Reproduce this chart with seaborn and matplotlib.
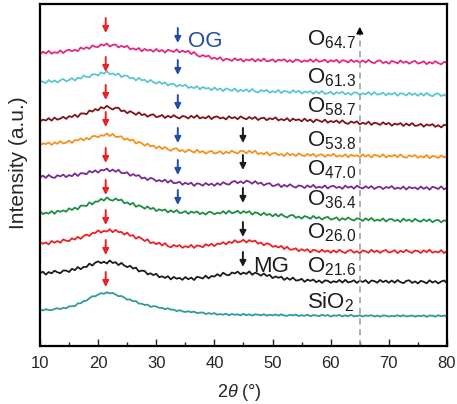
import numpy as np
import pandas as pd
import matplotlib
matplotlib.use('Agg')
import matplotlib.pyplot as plt
import seaborn as sns

# 2theta grid (0.5 deg steps) and stacked XRD intensities
two_theta = np.arange(10, 80.5, 0.5)

sio2 = [36.6, 35.5, 36.8, 36.0, 35.8, 37.1, 37.7, 36.9, 38.2, 37.7, 39.6, 39.8, 39.9, 42.6, 42.7, 45.0,
        45.3, 47.8, 49.8, 49.7, 51.4, 52.9, 52.2, 53.7, 52.6, 53.1, 51.4, 49.8, 50.0, 48.4, 46.3, 46.6,
        44.7, 44.9, 42.4, 42.3, 41.0, 41.4, 39.2, 39.8, 39.6, 38.1, 38.2, 36.7, 37.8, 36.3, 36.4, 34.9,
        35.8, 34.6, 34.0, 34.8, 33.7, 34.4, 32.8, 33.4, 33.5, 32.0, 32.9, 32.1, 32.9, 31.3, 31.9, 31.3,
        32.3, 30.7, 32.1, 31.2, 31.7, 30.7, 32.1, 30.8, 31.7, 30.4, 31.7, 31.3, 30.6, 31.8, 30.3, 31.3,
        30.6, 31.6, 30.3, 31.7, 30.5, 30.1, 31.2, 30.6, 31.4, 30.0, 30.8, 30.2, 31.3, 29.8, 30.9, 30.6,
        29.8, 31.2, 30.2, 31.0, 29.5, 30.6, 30.2, 31.0, 29.6, 30.7, 29.8, 31.1, 29.7, 30.0, 30.7, 29.4,
        30.6, 30.1, 30.8, 29.5, 30.4, 29.3, 30.6, 30.4, 29.4, 30.2, 29.7, 30.8, 29.5, 30.8, 29.6, 29.9,
        30.6, 29.3, 30.4, 29.8, 30.7, 29.2, 30.5, 30.2, 29.4, 30.8, 29.7, 30.5, 29.4]
o216 = [72.8, 74.3, 71.4, 73.9, 72.7, 75.3, 73.7, 72.8, 75.5, 75.4, 74.0, 77.2, 75.8, 79.0, 76.8, 79.1,
        79.0, 82.4, 80.4, 83.3, 84.6, 82.9, 84.3, 82.5, 85.5, 83.0, 83.8, 80.9, 83.1, 80.5, 78.9, 80.2,
        77.4, 78.4, 74.5, 75.4, 75.0, 71.6, 72.7, 70.9, 72.2, 68.8, 69.7, 68.1, 69.8, 66.6, 69.1, 67.3,
        68.1, 66.2, 69.0, 66.7, 68.4, 66.0, 69.2, 68.5, 67.5, 70.3, 67.6, 70.0, 69.4, 71.8, 69.9, 73.3,
        71.3, 70.7, 73.5, 72.5, 74.4, 71.7, 73.4, 72.1, 74.6, 71.2, 73.3, 72.2, 70.3, 72.5, 70.0, 71.1,
        67.9, 69.6, 68.2, 69.3, 66.1, 68.2, 66.2, 68.4, 65.5, 65.8, 67.2, 64.2, 66.4, 65.1, 66.4, 63.8,
        65.5, 63.1, 65.6, 65.2, 63.2, 64.8, 63.8, 66.0, 63.4, 66.1, 63.6, 64.3, 65.7, 63.1, 65.3, 64.0,
        65.8, 62.8, 65.5, 64.9, 63.3, 66.0, 63.9, 65.4, 63.2, 65.5, 63.3, 65.9, 63.9, 62.8, 65.1, 65.7,
        63.1, 64.6, 62.6, 65.1, 64.2, 62.7, 65.7, 63.4, 64.9, 62.6, 64.5, 65.5, 62.9]
o260 = [104.1, 102.2, 103.5, 101.6, 105.0, 103.3, 105.0, 103.3, 106.6, 105.3, 104.9, 107.7, 106.4, 109.2,
        107.2, 110.0, 111.5, 110.0, 113.0, 112.9, 115.7, 113.3, 115.2, 114.4, 116.8, 113.7, 116.1, 113.9,
        114.1, 111.3, 113.3, 110.1, 110.9, 107.3, 109.2, 107.3, 105.0, 106.7, 102.8, 103.8, 101.9, 103.3,
        100.4, 102.8, 99.8, 98.7, 101.0, 99.5, 100.9, 98.2, 99.9, 98.6, 101.1, 98.1, 100.5, 100.0, 98.8,
        101.8, 100.2, 102.2, 99.9, 102.4, 101.9, 103.9, 101.6, 104.3, 102.9, 105.8, 103.5, 104.4, 106.2,
        103.5, 105.9, 104.4, 105.4, 102.3, 103.5, 100.7, 102.8, 101.8, 99.2, 100.1, 98.5, 100.1, 96.9,
        99.2, 96.3, 96.6, 97.7, 94.8, 96.8, 95.2, 96.8, 93.6, 96.2, 95.5, 93.8, 96.3, 94.1, 95.5, 93.2,
        95.7, 93.5, 96.1, 94.1, 93.0, 95.3, 95.9, 93.3, 94.8, 92.8, 95.6, 94.7, 93.2, 96.2, 93.9, 95.4,
        93.1, 95.0, 96.0, 93.4, 94.3, 95.8, 92.9, 95.2, 93.7, 96.1, 94.2, 93.1, 95.5, 94.9, 93.0, 95.7,
        93.8, 96.3, 93.3, 94.6, 93.5, 95.9, 92.9, 95.1]
o364 = [134.7, 131.9, 133.4, 132.4, 134.8, 132.2, 135.3, 134.2, 135.6, 134.3, 137.7, 136.0, 138.4, 136.6,
        140.4, 140.4, 140.0, 143.6, 141.6, 144.5, 144.4, 147.1, 145.4, 148.6, 146.3, 145.3, 147.5, 145.6,
        146.4, 142.8, 143.6, 141.4, 143.1, 139.2, 140.8, 139.4, 137.3, 139.5, 137.0, 138.1, 134.9, 136.7,
        135.4, 136.6, 133.6, 135.7, 133.7, 135.9, 133.0, 133.4, 134.9, 132.1, 134.4, 133.2, 134.6, 131.9,
        133.5, 131.4, 134.1, 133.7, 131.7, 133.3, 132.5, 134.8, 132.4, 135.2, 132.8, 133.6, 135.2, 132.6,
        134.8, 133.2, 134.8, 131.4, 133.8, 132.8, 130.8, 133.2, 130.9, 132.1, 129.7, 132.0, 129.6, 132.0,
        129.8, 128.5, 130.6, 131.0, 128.2, 129.5, 127.3, 129.9, 128.9, 127.2, 130.1, 127.6, 128.9, 126.5,
        128.3, 129.1, 126.4, 127.2, 128.6, 125.6, 127.8, 126.2, 128.5, 126.6, 125.4, 127.7, 127.0, 125.0,
        127.7, 125.7, 128.1, 125.1, 126.3, 125.2, 127.5, 124.5, 126.6, 127.0, 125.0, 126.2, 124.1, 127.3,
        125.2, 126.4, 124.3, 127.1, 125.3, 124.3, 126.6, 124.8, 126.7, 123.8, 125.6, 126.1, 123.7, 125.7,
        124.7]
o470 = [168.4, 170.4, 168.1, 171.1, 168.8, 168.1, 170.7, 169.6, 171.4, 168.9, 170.9, 169.8, 172.6, 170.0,
        172.8, 172.7, 171.8, 175.0, 173.5, 175.6, 173.4, 176.1, 175.7, 177.4, 174.6, 176.5, 174.2, 176.2,
        173.0, 172.8, 173.7, 170.2, 171.9, 170.1, 170.9, 167.5, 168.5, 165.9, 168.1, 167.2, 164.7, 165.9,
        164.5, 166.3, 163.4, 165.7, 162.8, 163.1, 164.2, 161.3, 163.3, 161.7, 163.3, 160.1, 162.7, 162.0,
        160.3, 163.0, 160.9, 162.4, 160.2, 162.9, 161.0, 163.8, 162.1, 161.3, 164.0, 165.0, 162.8, 164.6,
        162.8, 165.4, 164.2, 162.3, 164.9, 162.2, 163.4, 160.7, 162.2, 162.8, 159.9, 160.6, 162.0, 158.9,
        161.1, 159.4, 161.7, 159.6, 158.4, 160.6, 159.9, 158.0, 160.6, 158.7, 161.1, 158.1, 159.3, 158.2,
        160.5, 157.5, 159.6, 160.1, 158.1, 159.2, 157.2, 160.4, 158.3, 159.6, 157.4, 160.3, 158.5, 157.5,
        159.8, 157.9, 159.9, 157.0, 158.8, 159.4, 156.9, 159.0, 158.0, 159.9, 157.0, 158.4, 157.2, 159.4,
        156.5, 159.1, 157.6, 158.6, 156.7, 159.5, 157.2, 158.9, 156.3, 159.2, 158.3, 157.0, 159.6, 156.6,
        158.5]
o538 = [200.4, 202.7, 201.9, 203.6, 201.1, 203.7, 202.2, 204.9, 202.5, 203.4, 205.4, 203.1, 205.9, 205.5,
        207.6, 205.6, 208.0, 206.5, 209.8, 210.0, 208.7, 210.8, 210.3, 212.6, 209.9, 212.1, 209.1, 209.1,
        209.7, 206.2, 207.5, 205.3, 206.3, 202.4, 204.2, 202.7, 200.3, 202.3, 199.6, 200.5, 197.7, 199.7,
        197.0, 199.1, 196.6, 195.2, 197.3, 197.6, 194.8, 196.0, 193.8, 196.3, 195.2, 193.4, 196.2, 193.6,
        194.9, 192.4, 194.2, 195.1, 192.4, 193.3, 194.8, 191.9, 194.2, 192.8, 195.3, 193.5, 192.6, 195.2,
        194.9, 192.7, 195.2, 193.0, 195.3, 192.0, 193.1, 191.7, 193.9, 190.6, 192.6, 193.0, 190.9, 192.0,
        189.9, 193.0, 190.9, 192.1, 189.9, 192.7, 190.8, 189.9, 192.1, 190.3, 192.2, 189.3, 191.1, 191.7,
        189.2, 191.3, 190.2, 192.2, 189.3, 190.6, 189.5, 191.7, 188.8, 191.4, 189.9, 190.9, 189.0, 191.7,
        189.4, 191.1, 188.5, 191.3, 190.4, 189.1, 191.7, 188.6, 190.5, 189.4, 191.2, 188.8, 191.6, 189.1,
        188.2, 190.7, 189.4, 191.0, 188.2, 189.9, 188.5, 191.0, 187.8, 190.1, 189.4, 188.0, 190.6, 188.6,
        190.1]
o587 = [224.7, 226.4, 225.5, 227.8, 225.4, 228.4, 226.3, 227.4, 229.2, 227.1, 229.8, 229.0, 231.3, 229.0,
        232.5, 232.6, 231.8, 235.5, 234.4, 236.9, 235.7, 238.9, 237.5, 240.2, 238.1, 236.5, 238.3, 238.1,
        234.8, 235.5, 232.8, 234.8, 233.2, 231.2, 233.7, 230.9, 231.9, 229.3, 231.0, 231.7, 228.9, 229.6,
        231.0, 228.0, 230.2, 228.5, 230.8, 228.8, 227.6, 230.0, 229.4, 227.5, 230.2, 228.2, 230.7, 227.6,
        228.8, 227.7, 230.0, 226.9, 229.1, 229.5, 227.5, 228.6, 226.6, 229.7, 227.7, 228.9, 226.8, 229.6,
        227.8, 226.8, 229.0, 227.1, 229.0, 226.0, 227.8, 228.3, 225.8, 227.8, 226.7, 228.6, 225.6, 226.9,
        225.7, 227.8, 224.8, 227.4, 225.8, 226.7, 224.7, 227.4, 224.9, 226.5, 223.7, 226.5, 225.4, 224.0,
        226.4, 223.3, 225.0, 223.8, 225.5, 223.0, 225.7, 223.1, 222.1, 224.5, 223.1, 224.6, 221.7, 223.3,
        221.9, 224.3, 221.1, 223.3, 222.6, 221.1, 223.7, 221.6, 223.1, 220.3, 222.4, 221.4, 222.9, 220.1,
        222.4, 220.5, 222.9, 220.1, 220.6, 222.1, 219.3, 221.6, 220.5, 221.9, 219.2, 220.8, 218.6, 221.2,
        220.7]
o613 = [265.1, 264.3, 262.9, 266.0, 263.9, 265.6, 263.6, 265.7, 267.0, 264.7, 266.0, 267.9, 265.4, 268.3,
        267.4, 270.4, 269.2, 268.7, 271.7, 271.7, 270.5, 273.7, 272.3, 274.9, 271.8, 272.6, 271.0, 272.6,
        268.9, 270.4, 270.3, 267.7, 268.3, 265.6, 268.2, 265.6, 266.3, 263.7, 266.1, 263.8, 262.4, 264.3,
        262.1, 263.7, 260.5, 262.0, 262.2, 259.4, 261.2, 259.8, 261.4, 258.1, 259.2, 257.8, 259.8, 256.6,
        259.1, 257.3, 258.1, 255.9, 258.5, 256.0, 257.6, 254.8, 257.6, 256.5, 255.1, 257.5, 254.4, 256.1,
        254.9, 256.7, 254.2, 257.0, 254.4, 253.5, 255.9, 254.6, 256.1, 253.3, 254.9, 253.6, 256.0, 252.9,
        255.1, 254.5, 253.0, 255.7, 253.6, 255.2, 252.4, 254.5, 253.5, 255.0, 252.2, 254.5, 252.6, 255.0,
        252.2, 252.7, 254.2, 251.5, 253.8, 252.8, 254.2, 251.6, 253.2, 251.1, 253.7, 253.3, 251.2, 252.8,
        251.7, 253.9, 251.2, 253.9, 251.3, 252.0, 253.3, 250.7, 252.8, 251.5, 253.2, 250.2, 252.8, 252.2,
        250.5, 253.2, 251.0, 252.5, 250.2, 252.7, 250.4, 253.0, 250.9, 249.8, 252.0, 252.6, 249.9, 251.4,
        249.3]
o647 = [291.5, 294.3, 292.5, 295.1, 292.3, 293.8, 293.0, 295.6, 292.9, 295.4, 296.3, 294.7, 296.3, 294.8,
        298.5, 297.0, 298.8, 297.2, 300.6, 299.3, 298.9, 301.7, 300.4, 302.5, 299.5, 301.1, 301.5, 298.6,
        300.2, 298.7, 300.2, 296.8, 297.7, 296.2, 298.0, 294.7, 297.1, 295.4, 296.3, 294.3, 297.0, 294.5,
        296.1, 293.4, 296.2, 295.3, 294.0, 296.6, 293.6, 295.3, 293.9, 295.1, 291.9, 294.0, 290.8, 289.2,
        291.0, 289.3, 290.4, 287.2, 288.4, 286.7, 288.8, 285.3, 287.3, 286.6, 285.1, 287.7, 285.6, 287.1,
        284.4, 286.6, 285.6, 287.2, 284.4, 286.8, 284.9, 287.4, 284.6, 285.2, 286.7, 284.0, 286.4, 285.4,
        286.8, 284.2, 285.9, 283.8, 286.4, 286.0, 284.0, 285.6, 284.5, 286.7, 284.1, 286.7, 284.2, 284.9,
        286.3, 283.6, 285.8, 284.5, 286.2, 283.2, 285.8, 285.2, 283.5, 286.2, 284.0, 285.5, 283.2, 285.7,
        283.4, 286.0, 283.9, 282.8, 285.0, 285.6, 282.9, 284.4, 282.3, 285.1, 284.1, 282.6, 285.5, 283.2,
        284.6, 282.3, 284.1, 285.1, 282.4, 283.3, 284.7, 281.8, 284.0, 282.5, 284.8, 282.9, 281.7, 284.1,
        283.4]

samples = ['SiO2', 'O21.6', 'O26.0', 'O36.4', 'O47.0', 'O53.8', 'O58.7', 'O61.3', 'O64.7']
labels = [r'SiO$_2$', r'O$_{21.6}$', r'O$_{26.0}$', r'O$_{36.4}$', r'O$_{47.0}$',
          r'O$_{53.8}$', r'O$_{58.7}$', r'O$_{61.3}$', r'O$_{64.7}$']
curves = [sio2, o216, o260, o364, o470, o538, o587, o613, o647]
colors = ['#2e9a9c', '#1c1c1c', '#ec2027', '#1f8d3f', '#7a2a8e',
          '#f7901e', '#7d1416', '#5bc6d0', '#e6277f']

# label baselines and arrow tips (same intensity units)
label_y = [38, 74, 108, 141, 171, 200, 234, 263, 301]
red_tips = [59, 91, 121, 151, 183, 219, 246, 274, 313]
blue_tips = [141, 171, 203, 236, 271, 303]
black_tips = [79, 109, 143, 176, 203]

df = pd.DataFrame({
    'two_theta': np.tile(two_theta, len(samples)),
    'intensity': sum(curves, []),
    'sample': [s for s in samples for _ in two_theta],
})

sns.set_style('white')
plt.rcParams['font.family'] = ['Liberation Sans', 'DejaVu Sans']
plt.rcParams['mathtext.fontset'] = 'custom'
plt.rcParams['mathtext.rm'] = 'Liberation Sans'
plt.rcParams['mathtext.it'] = 'Liberation Sans:italic'

fig = plt.figure(figsize=(4.57, 4.04), dpi=100)
ax = fig.add_axes([40 / 457, 58 / 404, 407 / 457, 342 / 404])

sns.lineplot(data=df, x='two_theta', y='intensity', hue='sample', palette=dict(zip(samples, colors)),
             estimator=None, linewidth=1.3, legend=False, ax=ax)

# reference line at 65 deg with arrow head
ax.plot([65, 65], [0, 312], ls=(0, (4, 3)), color='#9a9a9a', lw=1.1)
ax.annotate('', xy=(65, 322), xytext=(65, 311),
            arrowprops=dict(arrowstyle='-|>', color='black', lw=1, mutation_scale=10))


def arrow(x, tip, color):
    ax.annotate('', xy=(x, tip), xytext=(x, tip + 15),
                arrowprops=dict(arrowstyle='-|>', color=color, lw=1.4, mutation_scale=9,
                                shrinkA=0, shrinkB=0))


for t in red_tips:
    arrow(21.3, t, '#ec2027')
for t in blue_tips:
    arrow(33.7, t, '#1f4ea3')
for t in black_tips:
    arrow(44.9, t, '#1c1c1c')

for lab, yb in zip(labels, label_y):
    ax.text(55.9, yb, lab, fontsize=16, va='baseline', ha='left', color='#1c1c1c')
ax.text(35.5, 299, 'OG', fontsize=16, va='baseline', color='#1f4ea3')
ax.text(46.6, 74, 'MG', fontsize=16, va='baseline', color='#1c1c1c')

ax.set_xlim(10, 80)
ax.set_ylim(0, 342)
ax.set_xticks(range(10, 81, 10))
ax.set_xticks(range(15, 80, 10), minor=True)
ax.set_yticks([])
ax.tick_params(axis='x', which='major', direction='in', length=5, width=1, labelsize=12, pad=7,
               bottom=True)
ax.tick_params(axis='x', which='minor', direction='in', length=3, width=1, bottom=True)
for sp in ax.spines.values():
    sp.set_linewidth(1.6)
    sp.set_color('black')
ax.set_xlabel(r'2$\it{\theta}$ (°)', fontsize=13)
ax.xaxis.set_label_coords(0.49, -0.105)
ax.set_ylabel('Intensity (a.u.)', fontsize=15)
ax.yaxis.set_label_coords(-0.03, 0.535)

fig.savefig('out.png', dpi=100)
